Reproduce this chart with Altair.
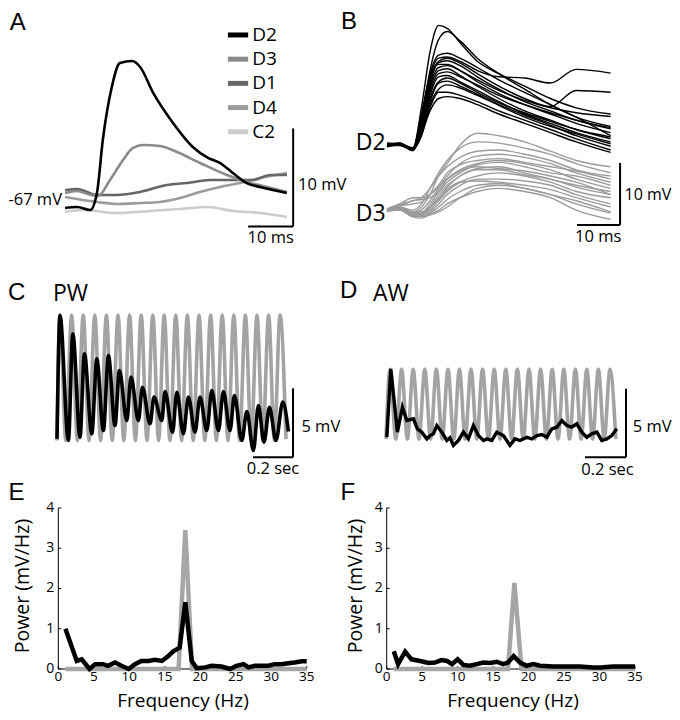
import altair as alt
import pandas as pd

FONT = "Open Sans"
LETTER_FONT = "Liberation Sans"
W = 332
H = 234.5

# ---------------- Panel A data (ms, mV) ----------------
a_names = ["D2", "D3", "D1", "D4", "C2"]
a_colors = ["#000000", "#8a8a8a", "#666666", "#9c9c9c", "#cdcdcd"]
a_d2_t = [0, 2.7, 5.6, 7.1, 8.4, 10.4, 12.2, 14.9, 16.7, 19.6, 24.0, 28.4, 31.8, 34.4, 37.3, 40.4, 43.3, 46.2, 49.3]
a_d2_v = [-67.82, -67.71, -68.02, -66.29, -60.88, -55.47, -53.02, -52.82, -53.43, -56.08, -59.14, -61.59, -62.71, -63.22, -64.24, -65.27, -65.67, -65.98, -66.29]
a_d3_t = [0, 2.67, 5.78, 7.33, 10.0, 12.89, 15.11, 17.33, 21.11, 24.89, 30.0, 36.0, 40.44, 44.89, 49.33]
a_d3_v = [-66.29, -66.08, -66.49, -66.59, -64.96, -62.92, -61.69, -61.39, -61.49, -62.10, -63.22, -64.45, -65.16, -65.67, -66.18]
a_d1_t = [0, 2.67, 7.11, 11.56, 16.67, 22.67, 27.11, 32.22, 37.33, 41.78, 45.56, 49.33]
a_d1_v = [-66.0, -65.88, -66.49, -66.49, -66.18, -65.47, -65.27, -64.96, -64.96, -64.96, -64.45, -64.45]
a_d4_t = [0, 2.67, 7.11, 11.56, 16.67, 21.11, 25.56, 30.0, 34.44, 38.89, 43.33, 49.33]
a_d4_v = [-66.69, -66.90, -67.20, -67.41, -67.31, -67.20, -66.80, -66.18, -65.67, -65.27, -64.76, -64.24]
a_c2_t = [0, 4.0, 11.56, 18.89, 25.56, 31.56, 37.33, 43.33, 49.33]
a_c2_v = [-68.22, -68.02, -68.33, -68.12, -67.92, -67.71, -68.12, -68.33, -68.73]

# ---------------- Panel B data (ms, mV relative to D2 baseline) ----------------
b_time = [0, 3, 6, 8, 10, 12, 14, 17, 21, 26, 32, 38, 44, 52]
b_black = [
    [0.2, 0.3, -0.6, 6.0, 15.0, 19.3, 18.8, 16.5, 13.5, 11.5, 9.5, 7.5, 6.0, 5.0],
    [0.0, 0.2, -0.5, 4.0, 12.0, 17.0, 18.3, 16.8, 14.0, 11.5, 9.0, 6.5, 4.5, 3.0],
    [0.3, 0.0, -0.8, 5.0, 11.5, 14.5, 14.8, 14.0, 12.5, 10.5, 8.5, 6.5, 4.5, 1.5],
    [-0.2, 0.2, -0.7, 4.0, 11.0, 14.0, 14.2, 13.5, 12.0, 11.0, 10.8, 10.0, 12.2, 11.6],
    [0.1, 0.0, -0.6, 3.5, 10.5, 13.5, 14.0, 13.2, 11.5, 9.5, 7.5, 6.2, 8.8, 8.5],
    [0.0, 0.3, -0.9, 3.0, 10.0, 13.3, 13.6, 12.8, 11.0, 9.0, 7.0, 5.5, 4.0, 2.8],
    [0.2, 0.1, -0.5, 4.5, 11.0, 13.0, 13.0, 12.0, 10.2, 8.3, 6.5, 5.0, 3.5, 2.0],
    [-0.3, 0.0, -0.8, 3.0, 9.5, 12.5, 12.8, 12.0, 10.5, 8.8, 7.2, 6.0, 5.2, 4.6],
    [0.1, 0.2, -0.6, 2.5, 9.0, 12.0, 12.3, 11.2, 9.5, 7.5, 5.5, 4.0, 2.5, 1.0],
    [0.0, -0.1, -0.7, 2.8, 8.5, 11.5, 11.8, 11.0, 9.7, 8.0, 6.5, 5.2, 4.0, 2.6],
    [0.2, 0.0, -0.5, 2.0, 8.0, 11.0, 11.2, 10.2, 8.8, 7.0, 5.0, 3.5, 2.0, 0.5],
    [-0.1, 0.2, -0.9, 2.2, 7.5, 10.2, 10.8, 10.0, 8.5, 6.8, 5.2, 3.8, 2.5, 1.3],
    [0.3, 0.1, -0.6, 1.5, 6.5, 9.0, 9.7, 9.2, 8.0, 6.5, 4.8, 3.2, 1.5, -0.2],
    [0.0, 0.0, -0.8, 1.5, 6.0, 8.5, 8.5, 8.0, 7.0, 5.5, 4.0, 2.5, 1.0, -0.8],
    [0.1, 0.3, -0.7, 1.8, 5.5, 7.5, 7.8, 7.5, 6.5, 5.0, 3.5, 2.0, 0.5, -1.2],
    [-0.2, 0.1, -0.5, 2.0, 7.0, 10.0, 10.3, 9.5, 8.2, 6.4, 4.5, 3.0, 1.8, 0.2],
]
b_gray = [
    [-10.5, -10.2, -10.8, -10.0, -8.0, -5.0, -3.0, 0.0, 1.9, 1.5, 0.5, -1.0, -2.5, -3.5],
    [-10.5, -10.0, -10.5, -9.5, -7.0, -4.5, -2.5, -0.5, 0.5, 0.3, -0.5, -1.5, -3.0, -4.5],
    [-10.3, -9.5, -9.0, -8.5, -7.0, -5.0, -3.5, -2.0, -1.0, -0.8, -1.5, -2.5, -4.0, -5.0],
    [-10.6, -10.2, -11.0, -10.5, -9.0, -7.0, -5.0, -3.0, -1.8, -1.5, -2.0, -3.0, -4.5, -6.0],
    [-10.4, -9.8, -9.5, -9.2, -8.0, -6.5, -4.5, -3.2, -2.5, -2.2, -2.8, -3.5, -4.2, -5.5],
    [-10.5, -10.3, -11.2, -11.0, -9.5, -7.5, -5.5, -4.0, -3.0, -2.5, -3.0, -4.0, -5.5, -7.0],
    [-10.7, -10.5, -11.5, -11.3, -10.0, -8.0, -6.5, -5.0, -3.8, -3.5, -4.5, -5.5, -6.5, -7.5],
    [-10.5, -9.5, -8.5, -8.5, -8.0, -6.8, -5.5, -4.2, -3.5, -3.8, -4.2, -5.0, -6.0, -8.0],
    [-10.4, -10.2, -11.0, -11.2, -10.5, -9.0, -7.5, -6.0, -5.0, -4.5, -5.0, -6.0, -7.5, -8.5],
    [-10.6, -10.4, -11.5, -11.5, -10.8, -9.5, -8.0, -6.5, -5.5, -5.5, -5.8, -6.5, -8.0, -9.5],
    [-10.5, -10.0, -10.8, -10.8, -10.0, -8.8, -7.2, -6.0, -5.8, -6.0, -6.5, -7.2, -8.5, -10.0],
    [-10.3, -10.3, -11.3, -11.5, -11.0, -10.0, -8.8, -7.5, -6.5, -6.2, -7.0, -8.0, -9.5, -11.0],
    [-10.6, -10.5, -11.6, -11.8, -11.2, -10.5, -9.5, -8.5, -7.5, -7.0, -7.5, -8.5, -10.5, -12.0],
    [-10.5, -9.8, -9.0, -8.8, -8.5, -7.5, -6.0, -4.5, -3.2, -2.8, -3.5, -4.5, -5.0, -6.5],
    [-10.4, -10.3, -11.0, -11.0, -10.2, -8.5, -6.8, -5.0, -4.0, -4.0, -4.8, -5.5, -6.8, -8.0],
    [-10.6, -10.4, -11.3, -11.5, -11.3, -10.8, -10.0, -8.5, -7.0, -6.5, -7.0, -8.0, -9.0, -10.8],
]

# ---------------- Panel C data (s, mV) ----------------
c_gray_peak_t = [0.015, 0.073, 0.131, 0.189, 0.247, 0.305, 0.363, 0.421, 0.479, 0.536,
                 0.594, 0.652, 0.710, 0.768, 0.826, 0.884, 0.942, 1.000, 1.058, 1.115]
c_gray_peak_v = [9.1, 9.1, 9.1, 9.1, 9.1, 9.1, 9.1, 9.1, 9.1, 9.1,
                 9.1, 9.1, 9.1, 9.1, 9.1, 9.1, 9.1, 9.1, 9.1, 9.1]
c_gray_trough_t = [0.0, 0.044, 0.102, 0.160, 0.218, 0.276, 0.334, 0.392, 0.450, 0.508, 0.565,
                   0.623, 0.681, 0.739, 0.797, 0.855, 0.913, 0.971, 1.029, 1.087, 1.145]
c_gray_trough_v = [0.0, 0.0, 0.0, 0.0, 0.0, 0.0, 0.0, 0.0, 0.0, 0.0, 0.0,
                   0.0, 0.0, 0.0, 0.0, 0.0, 0.0, 0.0, 0.0, 0.0, 0.1]
c_black_t = [0.0, 0.015, 0.057, 0.079, 0.115, 0.137, 0.174, 0.199, 0.232, 0.257, 0.290, 0.312, 0.349, 0.370,
             0.407, 0.427, 0.465, 0.485, 0.524, 0.540, 0.578, 0.599, 0.632, 0.657, 0.690, 0.715, 0.749, 0.774,
             0.807, 0.832, 0.865, 0.887, 0.924, 0.949, 0.982, 1.007, 1.035, 1.062, 1.095, 1.129, 1.157]
c_black_v = [0.12, 9.06, 0.0, 7.73, 0.24, 6.28, 0.49, 5.92, 0.72, 6.16, 1.09, 5.07, 1.45, 4.59,
             1.45, 3.86, 1.21, 3.14, 1.45, 3.55, 0.60, 3.50, 0.49, 3.14, 0.60, 3.14, 0.72, 3.62,
             0.72, 3.55, 0.72, 3.26, 0.0, 2.10, -0.72, 2.54, -0.12, 2.41, 0.0, 2.78, 0.65]

# ---------------- Panel D data (s, mV) ----------------
d_gray_peak_t = [0.020, 0.078, 0.136, 0.194, 0.252, 0.310, 0.367, 0.425, 0.483, 0.541,
                 0.599, 0.657, 0.715, 0.773, 0.831, 0.889, 0.947, 1.004, 1.062, 1.120]
d_gray_peak_v = [5.2, 5.2, 5.2, 5.2, 5.2, 5.2, 5.2, 5.2, 5.2, 5.2,
                 5.2, 5.2, 5.2, 5.2, 5.2, 5.2, 5.2, 5.2, 5.2, 5.2]
d_gray_trough_t = [0.0, 0.049, 0.107, 0.165, 0.223, 0.281, 0.339, 0.396, 0.454, 0.512, 0.570,
                   0.628, 0.686, 0.744, 0.802, 0.860, 0.918, 0.976, 1.033, 1.091, 1.149]
d_gray_trough_v = [0.1, 0.1, 0.1, 0.1, 0.1, 0.1, 0.1, 0.1, 0.1, 0.1, 0.1,
                   0.1, 0.1, 0.1, 0.1, 0.1, 0.1, 0.1, 0.1, 0.1, 0.1]
d_black_t = [0.004, 0.024, 0.057, 0.082, 0.104, 0.137, 0.157, 0.179, 0.204, 0.220, 0.237, 0.254, 0.279,
             0.304, 0.320, 0.337, 0.362, 0.387, 0.412, 0.437, 0.462, 0.487, 0.504, 0.529, 0.554, 0.587,
             0.620, 0.645, 0.670, 0.704, 0.729, 0.754, 0.779, 0.804, 0.829, 0.854, 0.879, 0.904, 0.929,
             0.954, 0.979, 1.004, 1.029, 1.054, 1.079, 1.104, 1.129, 1.154]
d_black_v = [0.24, 5.23, 0.61, 2.43, 1.46, 1.58, 0.85, 0.61, 0.12, 0.36, 0.49, 1.09, 0.61,
             0.0, 0.20, -0.36, 0.0, 0.61, 0.12, 1.09, 0.36, 0.0, 0.12, 0.0, 0.61, 0.36,
             -0.36, 0.12, 0.0, 0.24, 0.12, 0.36, 0.44, 0.24, 0.85, 0.97, 1.46, 1.09, 0.97,
             1.22, 0.61, 0.24, 0.49, 0.61, 0.0, 0.12, 0.36, 0.85]

# ---------------- Panels E / F data (Hz, mV/Hz) ----------------
e_black_f = [1, 2.6, 3.3, 4.4, 5.2, 6.3, 7.0, 8.0, 8.9, 9.9, 10.8, 11.7, 12.7, 13.6, 14.6, 15.5, 16.2, 17.1,
             17.9, 18.8, 19.5, 20.7, 21.6, 23.0, 24.2, 25.1, 26.1, 26.8, 27.7, 28.6, 29.6, 30.5, 31.5, 32.4,
             33.3, 34.3, 35]
e_black_p = [1.0, 0.2, 0.24, 0.0, 0.12, 0.12, 0.08, 0.16, 0.08, 0.0, 0.12, 0.2, 0.2, 0.23, 0.2, 0.32, 0.44, 0.53,
             1.66, 0.2, 0.02, 0.04, 0.08, 0.06, 0.0, 0.08, 0.12, 0.04, 0.08, 0.08, 0.08, 0.12, 0.12, 0.14,
             0.16, 0.19, 0.19]
e_gray_f = [1, 16.95, 17.9, 18.85, 35]
e_gray_p = [0, 0, 3.45, 0, 0]
f_black_f = [1, 1.6, 2.6, 3.5, 4.7, 5.9, 6.8, 7.7, 8.5, 9.2, 10.0, 10.8, 11.7, 12.7, 13.6, 14.6, 15.5, 16.4,
             17.1, 17.9, 18.8, 19.7, 20.7, 21.6, 23.5, 25.4, 27.2, 29.1, 30.1, 31.9, 33.3, 35]
f_black_p = [0.44, 0.12, 0.43, 0.24, 0.2, 0.15, 0.16, 0.22, 0.2, 0.12, 0.24, 0.1, 0.08, 0.12, 0.16, 0.15, 0.18,
             0.12, 0.16, 0.32, 0.16, 0.08, 0.12, 0.08, 0.06, 0.06, 0.06, 0.04, 0.04, 0.06, 0.06, 0.06]
f_gray_f = [1, 17.1, 18.0, 19.0, 35]
f_gray_p = [0, 0, 2.14, 0, 0]
y_ticks = [0, 1, 2, 3, 4]
x_ticks = [0, 5, 10, 15, 20, 25, 30, 35]


# ---------------- helpers ----------------
def sc(lo, hi):
    return alt.Scale(domain=[lo, hi], nice=False, zero=False)


def X(xs):
    return alt.X("t:Q", scale=xs, axis=None)


def Y(ys):
    return alt.Y("v:Q", scale=ys, axis=None)


def line(t, v, xs, ys, color, width, interp="monotone"):
    df = pd.DataFrame({"t": t, "v": v})
    return alt.Chart(df).mark_line(color=color, strokeWidth=width, interpolate=interp).encode(x=X(xs), y=Y(ys))


def multiline(times, series, xs, ys, color, width, prefix):
    rows = []
    for i, vals in enumerate(series):
        for t, v in zip(times, vals):
            rows.append({"t": t, "v": v, "trace": f"{prefix}{i}"})
    df = pd.DataFrame(rows)
    return alt.Chart(df).mark_line(color=color, strokeWidth=width, interpolate="monotone").encode(
        x=X(xs), y=Y(ys), detail="trace:N")


def rules(t, t2, v, v2, xs, ys, color="black", width=2):
    df = pd.DataFrame({"t": t, "t2": t2, "v": v, "v2": v2})
    return alt.Chart(df).mark_rule(color=color, strokeWidth=width).encode(
        x=X(xs), x2="t2:Q", y=Y(ys), y2="v2:Q")


def texts(t, v, labels, xs, ys, size, align="left", angle=None, dx=0, dy=0, color="black", font=FONT):
    df = pd.DataFrame({"t": t, "v": v, "label": labels})
    kw = dict(align=align, baseline="middle", font=font, fontSize=size, color=color, dx=dx, dy=dy)
    if angle is not None:
        kw["angle"] = angle
    return alt.Chart(df).mark_text(**kw).encode(x=X(xs), y=Y(ys), text="label:N")


def letter(t, v, label, xs, ys):
    return texts([t], [v], [label], xs, ys, 24, font=LETTER_FONT)


def interleave(tr_t, tr_v, pk_t, pk_v):
    t, v = [], []
    for i in range(len(pk_t)):
        t += [tr_t[i], pk_t[i]]
        v += [tr_v[i], pk_v[i]]
    t.append(tr_t[-1])
    v.append(tr_v[-1])
    return t, v


# ---------------- Panel A ----------------
xa, ya = sc(-12.667, 61.111), sc(-71.337, -47.408)
a_series = [(a_c2_t, a_c2_v, 4), (a_d4_t, a_d4_v, 3), (a_d1_t, a_d1_v, 2), (a_d3_t, a_d3_v, 1), (a_d2_t, a_d2_v, 0)]
a_layers = [line(t, v, xa, ya, a_colors[k], 2.6) for t, v, k in a_series]
leg_v = [-50.16 - 2.47 * i for i in range(len(a_names))]
leg_df = pd.DataFrame({"t": [36.2] * 5, "t2": [40.7] * 5, "v": leg_v, "name": a_names})
a_layers.append(alt.Chart(leg_df).mark_rule(strokeWidth=5).encode(
    x=X(xa), x2="t2:Q", y=Y(ya),
    color=alt.Color("name:N", scale=alt.Scale(domain=a_names, range=a_colors), legend=None)))
a_layers.append(texts([41.6] * 5, leg_v, a_names, xa, ya, 19))
a_layers.append(rules([50.7, 40.7], [50.7, 50.7], [-69.7, -69.7], [-59.7, -69.7], xa, ya))
a_layers.append(letter(-12.3, -48.89, "A", xa, ya))
a_layers.append(texts([-0.67], [-67.0], ["-67 mV"], xa, ya, 16.5, align="right"))
a_layers.append(texts([51.8], [-65.47], ["10 mV"], xa, ya, 16.5))
a_layers.append(texts([45.7], [-70.9], ["10 ms"], xa, ya, 16.5, align="center"))
panelA = alt.layer(*a_layers).properties(width=W, height=H)

# ---------------- Panel B ----------------
xb, yb = sc(-10.930, 66.279), sc(-15.726, 22.097)
b_layers = [
    multiline(b_time, b_gray, xb, yb, "#9b9b9b", 1.4, "g"),
    multiline(b_time, b_black, xb, yb, "#000000", 1.4, "b"),
    rules([54.2, 44.2], [54.2, 54.2], [-12.9, -12.9], [-2.9, -12.9], xb, yb),
    letter(-10.7, 19.76, "B", xb, yb),
    texts([-0.3], [0.3], ["D2"], xb, yb, 23, align="right"),
    texts([-0.3], [-11.1], ["D3"], xb, yb, 23, align="right"),
    texts([55.25], [-8.06], ["10 mV"], xb, yb, 16),
    texts([49.1], [-14.9], ["10 ms"], xb, yb, 16.5, align="center"),
]
panelB = alt.layer(*b_layers).properties(width=W, height=H)

# ---------------- Panel C ----------------
xc, yc = sc(-0.245, 1.415), sc(-2.681, 14.312)
cg_t, cg_v = interleave(c_gray_trough_t, c_gray_trough_v, c_gray_peak_t, c_gray_peak_v)
c_layers = [
    line(cg_t, cg_v, xc, yc, "#a3a3a3", 3.6),
    line(c_black_t, c_black_v, xc, yc, "#000000", 3.6),
    rules([1.18, 0.98], [1.18, 1.18], [-1.21, -1.21], [3.79, -1.21], xc, yc),
    letter(-0.245, 10.70, "C", xc, yc),
    texts([-0.02], [10.63], ["PW"], xc, yc, 23),
    texts([1.222], [0.96], ["5 mV"], xc, yc, 16.5),
    texts([1.08], [-2.03], ["0.2 sec"], xc, yc, 16.5, align="center"),
]
panelC = alt.layer(*c_layers).properties(width=W, height=H)

# ---------------- Panel D ----------------
xd, yd = sc(-0.23, 1.43), sc(-2.701, 14.416)
dg_t, dg_v = interleave(d_gray_trough_t, d_gray_trough_v, d_gray_peak_t, d_gray_peak_v)
d_layers = [
    line(dg_t, dg_v, xd, yd, "#a3a3a3", 3.6),
    line(d_black_t, d_black_v, xd, yd, "#000000", 3.4, interp="linear"),
    rules([1.2, 0.995], [1.2, 1.2], [-1.22, -1.22], [3.77, -1.22], xd, yd),
    letter(-0.23, 10.92, "D", xd, yd),
    texts([-0.065], [10.71], ["AW"], xd, yd, 23),
    texts([1.2335], [0.97], ["5 mV"], xd, yd, 16.5),
    texts([1.1075], [-2.19], ["0.2 sec"], xd, yd, 16.5, align="center"),
]
panelD = alt.layer(*d_layers).properties(width=W, height=H)


# ---------------- Panels E / F ----------------
def spectrum(xs, ys, lab, letter_t, ytitle_t, xtitle_t, gf, gp, bf, bp):
    n_y, n_x = len(y_ticks), len(x_ticks)
    layers = [
        rules([0, 0], [0, 35], [0, 0], [4, 0], xs, ys, width=1),
        rules([0] * n_y, [0.42] * n_y, y_ticks, y_ticks, xs, ys, width=1),
        rules(x_ticks, x_ticks, [0] * n_x, [0.075] * n_x, xs, ys, width=1),
        texts([0] * n_y, y_ticks, [str(v) for v in y_ticks], xs, ys, 14, align="right", dx=-4),
        texts(x_ticks, [0] * n_x, [str(v) for v in x_ticks], xs, ys, 13.5, align="center", dy=8),
        texts([ytitle_t], [2.06], ["Power (mV/Hz)"], xs, ys, 19.5, align="center", angle=270),
        texts([xtitle_t], [-0.783], ["Frequency (Hz)"], xs, ys, 19, align="center"),
        letter(letter_t, 4.36, lab, xs, ys),
        line(gf, gp, xs, ys, "#a6a6a6", 4.5, interp="linear"),
        line(bf, bp, xs, ys, "#000000", 4.5, interp="linear"),
    ]
    return alt.layer(*layers).properties(width=W, height=H)


y_ef = sc(-1.081, 4.745)
panelE = spectrum(sc(-7.088, 39.693), y_ef, "E", -7.0, -4.95, 17.57,
                  e_gray_f, e_gray_p, e_black_f, e_black_p)
panelF = spectrum(sc(-6.583, 40.217), y_ef, "F", -6.5, -4.33, 17.8,
                  f_gray_f, f_gray_p, f_black_f, f_black_p)

chart = alt.concat(
    panelA, panelB, panelC, panelD, panelE, panelF,
    columns=2, spacing=0, bounds="flush"
).properties(padding=0).configure_view(strokeWidth=0, stroke="transparent")

chart.save("out.html", embed_options={"renderer": "svg", "actions": False})
